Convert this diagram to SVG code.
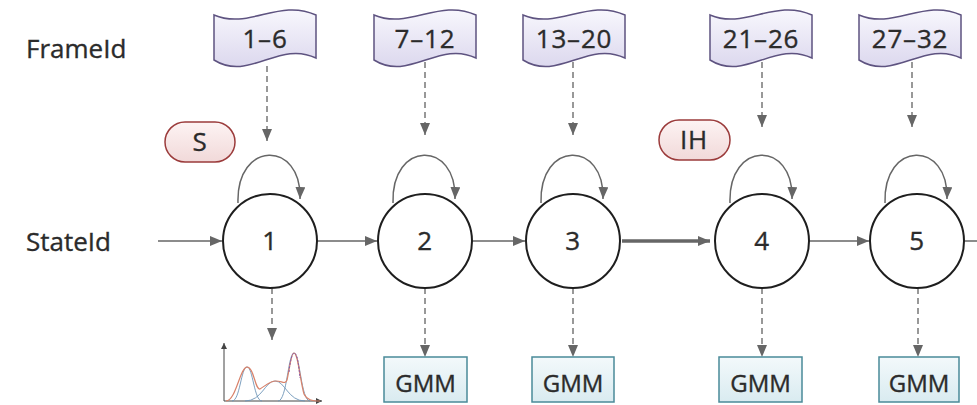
<svg xmlns="http://www.w3.org/2000/svg" width="977" height="405" viewBox="0 0 977 405">
<defs>
<linearGradient id="gFlag" x1="0" y1="0" x2="0" y2="1"><stop offset="0" stop-color="#f8f7fd"/><stop offset="1" stop-color="#dcd8ee"/></linearGradient>
<linearGradient id="gPill" x1="0" y1="0" x2="0" y2="1"><stop offset="0" stop-color="#fdf3f3"/><stop offset="1" stop-color="#f1d9d9"/></linearGradient>
<linearGradient id="gBox" x1="0" y1="0" x2="0" y2="1"><stop offset="0" stop-color="#f3f9fb"/><stop offset="1" stop-color="#d9ebf0"/></linearGradient>
<marker id="ah" markerUnits="userSpaceOnUse" markerWidth="13" markerHeight="11" refX="12" refY="5" orient="auto"><path d="M0,0 L12,5 L0,10 Z" fill="#666"/></marker>
<marker id="ahs" markerUnits="userSpaceOnUse" markerWidth="7" markerHeight="7" refX="6" refY="3" orient="auto"><path d="M0,0 L6,3 L0,6 Z" fill="#444"/></marker>
<path id="flag" d="M0,5 C35,20 65,-12 102,5 L102,48 C65,30 35,72 0,50 Z"/>
</defs>
<style>
text{font-family:"Open Sans","Noto Sans","Liberation Sans",sans-serif;fill:#2b2b2b;stroke:#2b2b2b;stroke-width:0.35;}
.lbl{font-size:26px;}
.t{font-size:24px;text-anchor:middle;}
.big{font-size:26px;letter-spacing:0.8px;}
.flag{fill:url(#gFlag);stroke:#5e5380;stroke-width:1.5;}
.pill{fill:url(#gPill);stroke:#9b3b3b;stroke-width:1.5;}
.box{fill:url(#gBox);stroke:#4a8a99;stroke-width:1.5;}
.st{fill:#fff;stroke:#1e1e1e;stroke-width:2;}
.ln{fill:none;stroke:#666;stroke-width:1.5;}
.thick{stroke-width:3.5;}
.dash{fill:none;stroke:#777;stroke-width:1.5;stroke-dasharray:6,4;}
</style>
<rect width="977" height="405" fill="#fff"/>
<text class="lbl" x="26" y="58">FrameId</text>
<text class="lbl" x="26" y="251">StateId</text>

<g id="connectors">
<path class="dash" d="M267,66 V141" marker-end="url(#ah)"/>
<path class="dash" d="M425,62 V135" marker-end="url(#ah)"/>
<path class="dash" d="M573,62 V135" marker-end="url(#ah)"/>
<path class="dash" d="M762,62 V127" marker-end="url(#ah)"/>
<path class="dash" d="M912,62 V127" marker-end="url(#ah)"/>
<path class="ln" d="M238,203 C236,140 302,140 300,199" marker-end="url(#ah)"/>
<path class="ln" d="M393,203 C391,140 457,140 455,199" marker-end="url(#ah)"/>
<path class="ln" d="M541,203 C539,140 605,140 603,199" marker-end="url(#ah)"/>
<path class="ln" d="M730,203 C728,140 794,140 792,199" marker-end="url(#ah)"/>
<path class="ln" d="M885,203 C883,140 949,140 947,199" marker-end="url(#ah)"/>
<path class="ln" d="M158,241 H222" marker-end="url(#ah)"/>
<path class="ln" d="M317,241 H377" marker-end="url(#ah)"/>
<path class="ln" d="M472,241 H525" marker-end="url(#ah)"/>
<path class="ln thick" d="M622,241 H710" marker-end="url(#ah)"/>
<path class="ln" d="M809,241 H869" marker-end="url(#ah)"/>
<path class="ln" d="M964,241 H977"/>
<path class="dash" d="M272,288 V340" marker-end="url(#ah)"/>
<path class="dash" d="M425,288 V357" marker-end="url(#ah)"/>
<path class="dash" d="M573,288 V357" marker-end="url(#ah)"/>
<path class="dash" d="M762,288 V357" marker-end="url(#ah)"/>
<path class="dash" d="M918,288 V357" marker-end="url(#ah)"/>
</g>

<g id="frame1"><use href="#flag" x="214" y="10" class="flag"/><text class="t big" x="265" y="48">1–6</text></g>
<g id="frame2"><use href="#flag" x="374" y="10" class="flag"/><text class="t big" x="425" y="48">7–12</text></g>
<g id="frame3"><use href="#flag" x="523" y="10" class="flag"/><text class="t big" x="574" y="48">13–20</text></g>
<g id="frame4"><use href="#flag" x="710" y="10" class="flag"/><text class="t big" x="761" y="48">21–26</text></g>
<g id="frame5"><use href="#flag" x="859" y="10" class="flag"/><text class="t big" x="910" y="48">27–32</text></g>

<g id="pillS"><rect class="pill" x="165" y="122" width="70" height="40" rx="20"/><text class="t big" x="200" y="151">S</text></g>
<g id="pillIH"><rect class="pill" x="659" y="120" width="71" height="40" rx="20"/><text class="t big" x="694" y="149">IH</text></g>

<g id="state1"><circle class="st" cx="270" cy="241" r="47"/><text class="t big" x="270" y="250">1</text></g>
<g id="state2"><circle class="st" cx="425" cy="241" r="47"/><text class="t big" x="425" y="250">2</text></g>
<g id="state3"><circle class="st" cx="573" cy="241" r="47"/><text class="t big" x="573" y="250">3</text></g>
<g id="state4"><circle class="st" cx="762" cy="241" r="47"/><text class="t big" x="762" y="250">4</text></g>
<g id="state5"><circle class="st" cx="917" cy="241" r="47"/><text class="t big" x="917" y="250">5</text></g>

<g id="chart">
<path d="M224,401 V343" fill="none" stroke="#444" stroke-width="1" marker-end="url(#ahs)"/>
<path d="M224,401 H322" fill="none" stroke="#444" stroke-width="1" marker-end="url(#ahs)"/>
<g fill="none" stroke="#6e95b8" stroke-width="0.9">
<path d="M232,401 C240,401 241,367 247,367 C253,367 254,401 262,401"/>
<path d="M245,401 C262,401 265,381 275,381 C285,381 288,401 305,401"/>
<path d="M278,401 C287,401 288,353 294,353 C300,353 301,401 310,401"/>
</g>
<path d="M226,401 C236,401 240,367 247,367 C254,367 255,390 260,389 C265,386 270,381 276,381 C282,381 285,385 287,380 C289,372 291,353 294,353 C298,353 300,380 304,394 C307,400 312,401 320,401" fill="none" stroke="#d9826a" stroke-width="1.2"/>
<path d="M289,372 C291,353 294,353 294,353 C298,353 299,370 300,378" fill="none" stroke="#8a5aa8" stroke-width="1" stroke-dasharray="2,1.5"/>
</g>

<g id="gmm1"><rect class="box" x="384" y="357" width="83" height="45"/><text class="t" x="425.5" y="392">GMM</text></g>
<g id="gmm2"><rect class="box" x="532" y="357" width="82" height="45"/><text class="t" x="573" y="392">GMM</text></g>
<g id="gmm3"><rect class="box" x="719" y="357" width="83" height="45"/><text class="t" x="760.5" y="392">GMM</text></g>
<g id="gmm4"><rect class="box" x="879" y="357" width="80" height="45"/><text class="t" x="919" y="392">GMM</text></g>
</svg>
